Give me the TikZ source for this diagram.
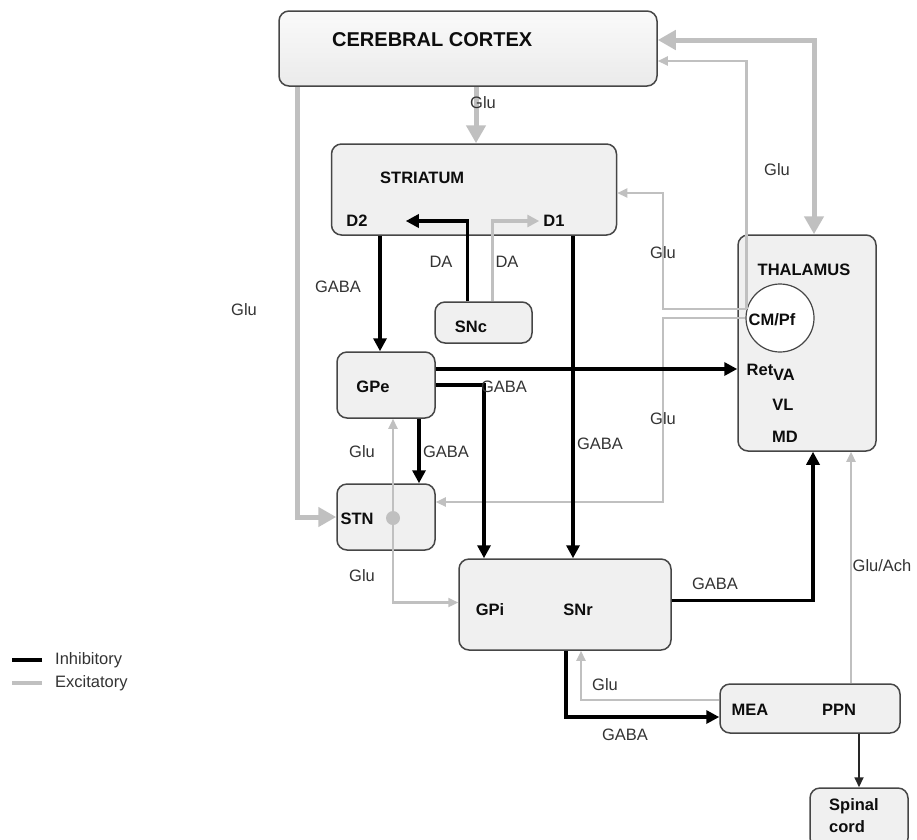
\documentclass[tikz,border=0pt]{standalone}
\usepackage{fontspec}
\setmainfont{Liberation Sans}
\usetikzlibrary{arrows.meta,positioning}
\definecolor{excgrey}{RGB}{192,192,192}
\definecolor{boxline}{RGB}{70,70,70}
\definecolor{boxfill}{RGB}{240,240,240}
\tikzset{
  every node/.style={
    font=\fontsize{16.5}{22}\selectfont
  },
  nucleus/.style n args={2}{
    shape=rectangle,
    rounded corners=10pt,
    draw=boxline,
    line width=1.5pt,
    fill=boxfill,
    minimum width=#1,
    minimum height=#2,
    inner sep=0pt
  },
  region/.style={
    font=\fontsize{16.5}{22}\selectfont\bfseries,
    text=black!95,
    inner sep=0pt
  },
  tag/.style={
    text=black!80,
    inner sep=0pt
  },
  inh/.style={
    draw=black,
    line width=3.5pt,
    -{Triangle[length=13pt,width=13pt]}
  },
  inhthin/.style={
    draw=black!85,
    line width=1.8pt,
    -{Triangle[length=10pt,width=9pt]}
  },
  exc/.style={
    draw=excgrey,
    line width=2.2pt,
    -{Triangle[length=10pt,width=9pt]}
  },
  excthick/.style={
    draw=excgrey,
    line width=5pt,
    -{Triangle[length=18pt,width=19pt]}
  }
}

\begin{document}
\begin{tikzpicture}[x=1pt,y=-1pt]
\useasboundingbox (0,0) rectangle (917,839);

% boxes
\node [nucleus={378pt}{75pt}, top color=gray!4, bottom color=gray!16] (cortex) at (468,48.5) {};
\node [nucleus={285pt}{91pt}] (striatum) at (474,189.5) {};
\node [nucleus={97pt}{41pt}] (snc) at (483.5,322.5) {};
\node [nucleus={98pt}{66pt}] (gpe) at (386,385) {};
\node [nucleus={98pt}{66pt}] (stn) at (386,517) {};
\node [nucleus={212pt}{91pt}] (gpisnr) at (565,604.5) {};
\node [nucleus={138pt}{216pt}] (thal) at (807,343) {};
\node [nucleus={180pt}{49pt}] (meappn) at (810,708.5) {};
\node [nucleus={98pt}{60pt}] (spinal) at (859,818) {};

% names inside the boxes
\node [region, font=\fontsize{20}{24}\selectfont\bfseries, anchor=west] (ctxname) at (332,40) {CEREBRAL CORTEX};
\node [region, anchor=west] (strname) at (380,178) {STRIATUM};
\node [region] (d2) at (357,221) {D2};
\node [region] (d1) at (554,221) {D1};
\node [region] (sncname) at (471,327) {SNc};
\node [region] (gpename) at (373,387) {GPe};
\node [region] (stnname) at (357,519) {STN};
\node [region] (gpi) at (490,610) {GPi};
\node [region] (snr) at (578,610) {SNr};
\node [region] (thalname) at (804,270) {THALAMUS};
\node [circle, draw=boxline, line width=1.2pt, fill=white, minimum size=68pt, inner sep=0pt] (cmpf) at (780,318) {};
\node [region] (cmpfname) at (772,320) {CM/Pf};
\node [region] (ret) at (760,370) {Ret};
\node [region] (va) at (784,375) {VA};
\node [region] (vl) at (783,405) {VL};
\node [region] (md) at (785,437) {MD};
\node [region] (mea) at (750,710) {MEA};
\node [region] (ppn) at (839,710) {PPN};
\node [region, align=left, anchor=west] (spinalname) at (829,816) {Spinal\\cord};

% excitatory paths
\coordinate (tcTop) at (814,40);
\draw [excthick, {Triangle[length=18pt,width=19pt]}-{Triangle[length=18pt,width=19pt]}]
  (thal.north -| tcTop) -- (tcTop) -- (cortex.east |- tcTop);
\coordinate (ctxIn) at (747,61);
\draw [exc] (cmpf.165) -- (cmpf.165 |- ctxIn) -- (cortex.east |- ctxIn);
\coordinate (strIn) at (663,193);
\draw [exc] (cmpf.165) -| (strIn) -- (striatum.east |- strIn);
\coordinate (stnIn) at (663,502);
\draw [exc] (cmpf.west) -| (stnIn) -- (stn.east |- stnIn);
\draw [excthick] ([xshift=2pt]cortex.south -| striatum.north) -- ([xshift=2pt]striatum.north);
\coordinate (ctxDown) at (297,0);
\draw [excthick] (cortex.south -| ctxDown) |- (stn.west);
\draw [exc, line width=3.5pt, -{Triangle[length=12pt,width=12pt]}] ([xshift=9pt]snc.north) |- ([xshift=-4pt]d1.west);
\node [circle, fill=excgrey, minimum size=14pt, inner sep=0pt] (stndot) at (393,518) {};
\draw [exc] (stndot) -- (stndot |- gpe.south);
\draw [exc] (stndot) |- ([yshift=2pt]gpisnr.west);
\draw [exc] ([xshift=41pt]meappn.north) coordinate (ppnUp) -- (thal.south -| ppnUp);
\draw [exc] ([yshift=8.5pt]meappn.west) -| ([xshift=16pt]gpisnr.south);

% inhibitory paths
\draw [inh] ([xshift=-16pt]snc.north) |- ([xshift=38pt]d2.east);
\coordinate (d2Out) at (380,0);
\draw [inh] (striatum.south -| d2Out) -- (gpe.north -| d2Out);
\coordinate (d1Out) at (573,0);
\draw [inh] (striatum.south -| d1Out) -- (gpisnr.north -| d1Out);
\draw [inh] ([yshift=16pt]gpe.east) coordinate (gpeOut) -- (thal.west |- gpeOut);
\draw [inh] (gpe.east) -| ([xshift=-81pt]gpisnr.north);
\draw [inh] ([xshift=33pt]gpe.south) -- ([xshift=33pt]stn.north);
\draw [inh] ([yshift=4pt]gpisnr.east) -| ([xshift=6pt]thal.south);
\draw [inh] ([xshift=1pt]gpisnr.south) |- ([yshift=-8.5pt]meappn.west);
\draw [inhthin] (meappn.south -| spinal.north) -- (spinal.north);

% transmitter labels
\node [tag] (gluCtx) at (483,103) {Glu};
\node [tag] (gluLeft) at (244,310) {Glu};
\node [tag] (gluThal) at (777,170) {Glu};
\node [tag] (gluCmStr) at (663,253) {Glu};
\node [tag] (gluCmStn) at (663,419) {Glu};
\node [tag] (gabaD2) at (338,287) {GABA};
\node [tag] (daLeft) at (441,262) {DA};
\node [tag] (daRight) at (507,262) {DA};
\node [tag] (gabaGpi) at (504,387) {GABA};
\node [tag] (gabaStn) at (446,452) {GABA};
\node [tag] (gluGpe) at (362,452) {Glu};
\node [tag] (gabaD1) at (600,444) {GABA};
\node [tag] (gluGpi) at (362,576) {Glu};
\node [tag] (gabaThal) at (715,584) {GABA};
\node [tag] (gluAch) at (882,566) {Glu/Ach};
\node [tag] (gluMea) at (605,685) {Glu};
\node [tag] (gabaMea) at (625,735) {GABA};

% key
\node [tag, anchor=west] (inhkey) at (55,660) {Inhibitory};
\node [tag, anchor=west] (exckey) at (55,683) {Excitatory};
\draw [black, line width=4pt] ([xshift=-13pt]inhkey.west) -- ++(-30pt,0);
\draw [excgrey, line width=4pt] ([xshift=-13pt]exckey.west) -- ++(-30pt,0);

\end{tikzpicture}
\end{document}
